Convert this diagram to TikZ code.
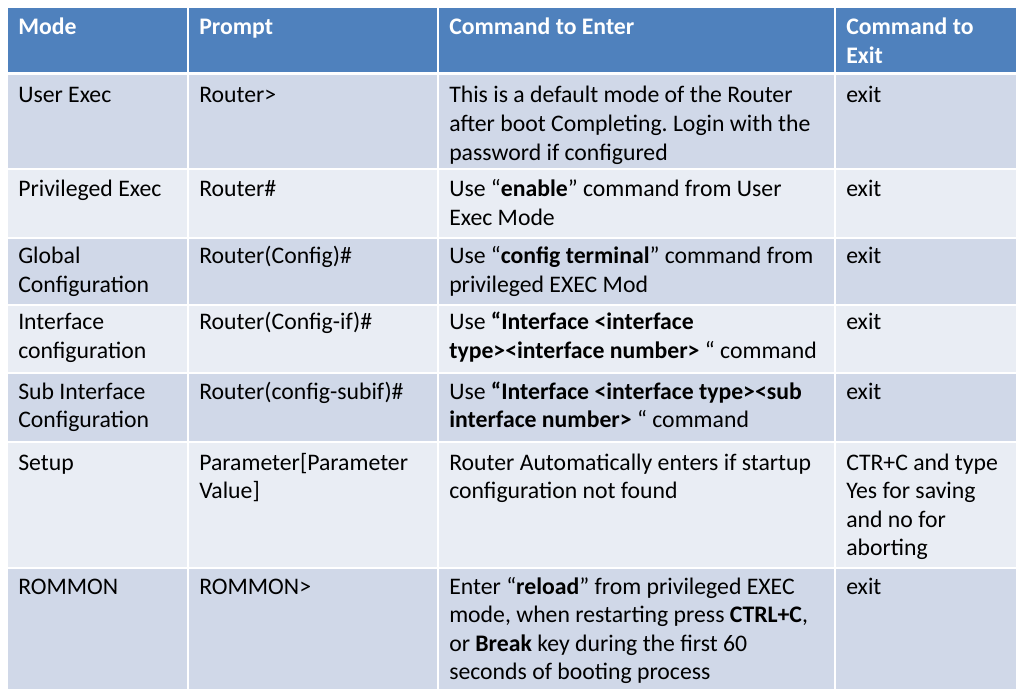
\documentclass[tikz,border=0pt]{standalone}
\usepackage{fontspec}
\setmainfont{Carlito}
\frenchspacing
\definecolor{hdrblue}{HTML}{4F81BD}
\definecolor{rowdark}{HTML}{D0D8E8}
\definecolor{rowlight}{HTML}{E9EDF4}
\newcommand{\cellfont}{\fontsize{17.8}{21.4}\selectfont\frenchspacing}
\newcommand{\cl}[1]{\begin{tabular}[t]{@{}l@{}}#1\end{tabular}}
\begin{document}
\begin{tikzpicture}[x=0.75pt,y=-0.75pt,
  cell/.style={anchor=base west, inner sep=0pt, font=\cellfont, text=black},
  head/.style={cell, font=\cellfont\bfseries, text=white},
  sep/.style={white, line width=1.5pt}]
\useasboundingbox[fill=white] (0,0) rectangle (1024,698);
% row fills
\foreach \a/\b/\c in {8/74/hdrblue, 74/169/rowdark, 169/238/rowlight, 238/305/rowdark,
  305/373/rowlight, 373/442/rowdark, 442/568/rowlight, 568/689/rowdark}
  \fill[\c] (8,\a) rectangle (1016,\b);
% separators
\foreach \x in {188,438,835} \draw[sep] (\x,8) -- (\x,689);
\foreach \y in {169,238,305,373,442,568} \draw[sep] (8,\y) -- (1016,\y);
\draw[white, line width=2.25pt] (8,74) -- (1016,74);
% header
\node[head] (h1) at (18,35) {Mode};
\node[head] (h2) at (199,35) {Prompt};
\node[head] (h3) at (449,35) {Command to Enter};
\node[head] (h4) at (846,35) {\cl{Command to\\Exit}};
% row 1
\node[cell] (r1a) at (18,103) {User Exec};
\node[cell] (r1b) at (199,103) {Router>};
\node[cell] (r1c) at (449,103) {\cl{This is a default mode of the Router\\after boot Completing. Login with the\\password if configured}};
\node[cell] (r1d) at (846,103) {exit};
% row 2
\node[cell] (r2a) at (18,197) {Privileged Exec};
\node[cell] (r2b) at (199,197) {Router\#};
\node[cell] (r2c) at (449,197) {\cl{Use “\textbf{enable}” command from User\\Exec Mode}};
\node[cell] (r2d) at (846,197) {exit};
% row 3
\node[cell] (r3a) at (18,264) {\cl{Global\\Configuration}};
\node[cell] (r3b) at (199,264) {Router(Config)\#};
\node[cell] (r3c) at (449,264) {\cl{Use “\textbf{config terminal}” command from\\privileged EXEC Mod}};
\node[cell] (r3d) at (846,264) {exit};
% row 4
\node[cell] (r4a) at (18,330) {\cl{Interface\\configuration}};
\node[cell] (r4b) at (199,330) {Router(Config-if)\#};
\node[cell] (r4c) at (449,330) {\cl{Use \textbf{“Interface <interface}\\\textbf{type><interface number>} “ command}};
\node[cell] (r4d) at (846,330) {exit};
% row 5
\node[cell] (r5a) at (18,399) {\cl{Sub Interface\\Configuration}};
\node[cell] (r5b) at (199,399) {Router(config-subif)\#};
\node[cell] (r5c) at (449,399) {\cl{Use \textbf{“Interface <interface type><sub}\\\textbf{interface number>} “ command}};
\node[cell] (r5d) at (846,399) {exit};
% row 6
\node[cell] (r6a) at (18,470) {Setup};
\node[cell] (r6b) at (199,470) {\cl{Parameter[Parameter\\Value]}};
\node[cell] (r6c) at (449,470) {\cl{Router Automatically enters if startup\\configuration not found}};
\node[cell] (r6d) at (846,470) {\cl{CTR+C and type\\Yes for saving\\and no for\\aborting}};
% row 7
\node[cell] (r7a) at (18,594) {ROMMON};
\node[cell] (r7b) at (199,594) {ROMMON>};
\node[cell] (r7c) at (449,594) {\cl{Enter “\textbf{reload}” from privileged EXEC\\mode, when restarting press \textbf{CTRL+C},\\or \textbf{Break} key during the first 60\\seconds of booting process}};
\node[cell] (r7d) at (846,594) {exit};
\end{tikzpicture}
\end{document}
